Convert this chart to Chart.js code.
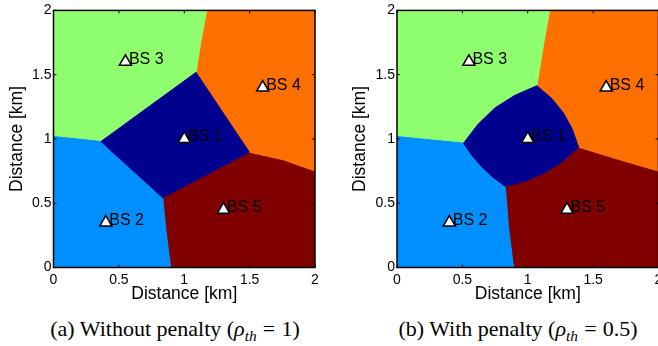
<!DOCTYPE html>
<html><head><meta charset="utf-8">
<script src="https://cdn.jsdelivr.net/npm/chart.js@4.4.1/dist/chart.umd.min.js"></script>
<style>
html,body{margin:0;padding:0;background:#fff;width:658px;height:346px;overflow:hidden;position:relative}
.box{position:absolute;top:0;width:330px;height:305px}
#wa{left:0}
#wb{left:343px}
.cap{position:absolute;top:317px;line-height:24px;font-family:"Liberation Serif","Times New Roman",serif;font-size:22px;white-space:nowrap;color:#000;transform:translateX(-50%)}
.cap i{font-style:italic}
.cap .sb{font-style:italic;font-size:70%;position:relative;top:0.3em}
.cap .eq{padding:0 0.28em}
</style></head><body>
<div class="box" id="wa"><canvas id="ca"></canvas></div>
<div class="box" id="wb"><canvas id="cb"></canvas></div>
<div class="cap" style="left:175px">(a) Without penalty (<i>ρ</i><span class="sb">th</span><span class="eq">=</span>1)</div>
<div class="cap" style="left:518px">(b) With penalty (<i>ρ</i><span class="sb">th</span><span class="eq">=</span>0.5)</div>
<script>
// ---- data ----
const axisTicks = [0, 0.5, 1, 1.5, 2];
const bsNames = ['BS 1', 'BS 2', 'BS 3', 'BS 4', 'BS 5'];
const bsX = [1.0, 0.4, 0.55, 1.6, 1.3];
const bsY = [1.0, 0.35, 1.6, 1.4, 0.45];

// (a) without penalty: cell boundary vertices [x, y] in km
const cellA_BS1 = [[1.090,1.518],[1.498,0.897],[0.835,0.543],[0.363,0.980]];
const cellA_BS2 = [[0,1.019],[0.363,0.980],[0.835,0.543],[0.860,0.289],[0.896,0],[0,0]];
const cellA_BS3 = [[0,2],[1.172,2],[1.128,1.763],[1.090,1.518],[0.363,0.980],[0,1.019]];
const cellA_BS4 = [[1.172,2],[2,2],[2,0.750],[1.758,0.838],[1.498,0.897],[1.090,1.518],[1.128,1.763]];
const cellA_BS5 = [[0.896,0],[2,0],[2,0.750],[1.758,0.838],[1.498,0.897],[0.835,0.543],[0.860,0.289]];

// (b) with penalty
const cellB_BS1 = [[1.070,1.414],[1.181,1.317],[1.271,1.205],[1.340,1.078],[1.389,0.936],[1.266,0.825],[1.132,0.738],[0.986,0.673],[0.828,0.631],[0.735,0.701],[0.650,0.781],[0.575,0.869],[0.509,0.967],[0.621,1.116],[0.750,1.242],[0.901,1.339]];
const cellB_BS2 = [[0,1.019],[0.509,0.967],[0.575,0.869],[0.650,0.781],[0.735,0.701],[0.828,0.631],[0.853,0.315],[0.892,0],[0,0]];
const cellB_BS3 = [[0,2],[1.167,2],[1.121,1.738],[1.070,1.414],[0.901,1.339],[0.750,1.242],[0.621,1.116],[0.509,0.967],[0,1.019]];
const cellB_BS4 = [[1.167,2],[2,2],[2,0.750],[1.682,0.845],[1.389,0.936],[1.340,1.078],[1.271,1.205],[1.181,1.317],[1.070,1.414],[1.121,1.738]];
const cellB_BS5 = [[0.892,0],[2,0],[2,0.750],[1.682,0.845],[1.389,0.936],[1.266,0.825],[1.132,0.738],[0.986,0.673],[0.828,0.631],[0.853,0.315]];

// ---- styles ----
const cellColors = ['#00008F', '#008FFF', '#8FFF70', '#FF7000', '#800000'];
const SANS = '"Liberation Sans", Arial, Helvetica, sans-serif';

const framePlugin = {
  id: 'frame',
  afterDatasetsDraw(chart) {
    const {ctx, chartArea: a, scales: {x, y}} = chart;
    ctx.save();
    ctx.font = '16px ' + SANS;
    ctx.fillStyle = '#000';
    ctx.textAlign = 'left';
    ctx.textBaseline = 'middle';
    bsNames.forEach((n, i) => {
      ctx.fillText(n, x.getPixelForValue(bsX[i]) + 3.5, y.getPixelForValue(bsY[i]) - 2);
    });
    ctx.strokeStyle = '#000';
    ctx.lineWidth = 1;
    const tl = 3;
    ctx.beginPath();
    axisTicks.forEach(v => {
      const px = x.getPixelForValue(v);
      ctx.moveTo(px, a.bottom); ctx.lineTo(px, a.bottom - tl);
      ctx.moveTo(px, a.top); ctx.lineTo(px, a.top + tl);
      const py = y.getPixelForValue(v);
      ctx.moveTo(a.left, py); ctx.lineTo(a.left + tl, py);
      ctx.moveTo(a.right, py); ctx.lineTo(a.right - tl, py);
    });
    ctx.stroke();
    ctx.lineWidth = 1.5;
    ctx.strokeRect(a.left, a.top, a.right - a.left, a.bottom - a.top);
    ctx.restore();
  }
};

function toPts(arr) {
  const pts = arr.map(p => ({x: p[0], y: p[1]}));
  pts.push({x: arr[0][0], y: arr[0][1]});
  return pts;
}

function makeChart(id, cells, yWidth, padRight) {
  const datasets = [{
    label: 'BS',
    data: bsX.map((v, i) => ({x: v, y: bsY[i]})),
    pointStyle: 'triangle',
    pointRadius: 7,
    pointBackgroundColor: '#fff',
    pointBorderColor: '#000',
    pointBorderWidth: 1.5,
    showLine: false,
    order: 0,
    clip: false
  }];
  cells.forEach((c, i) => {
    datasets.push({
      label: bsNames[i],
      data: toPts(c),
      showLine: true,
      fill: 'shape',
      backgroundColor: cellColors[i],
      borderColor: cellColors[i],
      borderWidth: 1,
      pointRadius: 0,
      tension: 0,
      order: 1
    });
  });
  const tickFont = {family: SANS, size: 14};
  const titleFont = {family: SANS, size: 17.5};
  return new Chart(document.getElementById(id), {
    type: 'scatter',
    data: {datasets},
    options: {
      animation: false,
      responsive: true,
      maintainAspectRatio: false,
      layout: {padding: {left: 0, top: 9.5, right: padRight, bottom: 0}},
      plugins: {legend: {display: false}, tooltip: {enabled: false}},
      events: [],
      scales: {
        x: {
          type: 'linear', min: 0, max: 2,
          afterBuildTicks: s => { s.ticks = axisTicks.map(v => ({value: v})); },
          ticks: {font: tickFont, color: '#000', padding: 4, maxRotation: 0, autoSkip: false, callback: v => String(v)},
          grid: {display: false, drawTicks: false},
          border: {display: false},
          title: {display: true, text: 'Distance [km]', font: titleFont, color: '#000', padding: {top: 0, bottom: 0}},
          afterFit: s => { s.height = 37.5; }
        },
        y: {
          type: 'linear', min: 0, max: 2,
          afterBuildTicks: s => { s.ticks = axisTicks.map(v => ({value: v})); },
          ticks: {font: tickFont, color: '#000', padding: 2, autoSkip: false, callback: v => String(v)},
          grid: {display: false, drawTicks: false},
          border: {display: false},
          title: {display: true, text: 'Distance [km]', font: titleFont, color: '#000', padding: {top: 6.5, bottom: 0}},
          afterFit: s => { s.width = yWidth; }
        }
      }
    },
    plugins: [framePlugin]
  });
}

makeChart('ca', [cellA_BS1, cellA_BS2, cellA_BS3, cellA_BS4, cellA_BS5], 53.5, 15);
makeChart('cb', [cellB_BS1, cellB_BS2, cellB_BS3, cellB_BS4, cellB_BS5], 54, 14.5);
</script>
</body></html>
